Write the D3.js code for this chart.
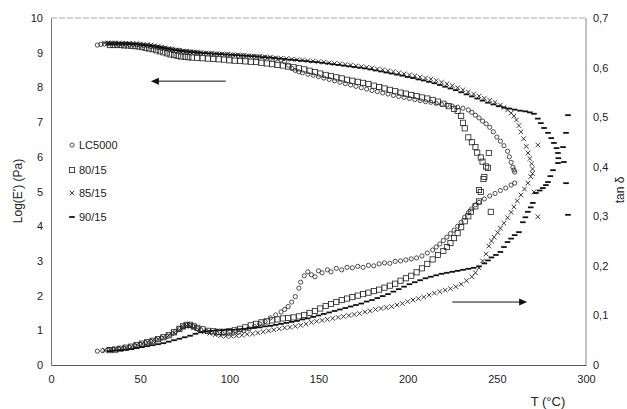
<!DOCTYPE html>
<html>
<head>
<meta charset="utf-8">
<script src="https://cdn.jsdelivr.net/npm/d3@7"></script>
<style>
  body { margin: 0; background: #fff; }
  svg { display: block; font-family: "Liberation Sans", Arial, sans-serif; }
</style>
</head>
<body>
<div id="chart"></div>
<script>
// ---- data: [T (°C), value] ----
var xTicks = [0, 50, 100, 150, 200, 250, 300];
var leftTicks = [0, 1, 2, 3, 4, 5, 6, 7, 8, 9, 10];
var rightTicks = [0, 0.1, 0.2, 0.3, 0.4, 0.5, 0.6, 0.7];
var seriesNames = ['LC5000', '80/15', '85/15', '90/15'];
var seriesMarkers = ['circle', 'square', 'cross', 'dash'];

// Log(E') on the left axis
var modLC5000 = [[26,9.22],[28,9.24],[30,9.25],[32,9.26],[34,9.26],[36,9.26],[38,9.25],[40,9.25],[42,9.25],[44,9.24],[46,9.24],[48,9.23],[50,9.22],[52,9.21],[54,9.20],[56,9.18],[58,9.17],[60,9.15],[62,9.13],[64,9.12],[66,9.10],[68,9.09],[70,9.07],[72,9.06],[74,9.04],[76,9.03],[78,9.02],[80,9.01],[82,9.00],[84,8.99],[87,8.98],[90,8.97],[93,8.96],[96,8.95],[99,8.94],[102,8.93],[105,8.92],[108,8.91],[111,8.90],[114,8.89],[117,8.88],[120,8.86],[123,8.84],[126,8.82],[129,8.79],[131,8.74],[133,8.64],[135,8.55],[137,8.49],[139,8.45],[141,8.42],[144,8.38],[147,8.35],[150,8.31],[153,8.27],[156,8.23],[159,8.19],[162,8.15],[165,8.11],[168,8.07],[171,8.03],[174,7.99],[177,7.95],[180,7.91],[183,7.88],[186,7.84],[189,7.81],[192,7.77],[195,7.74],[198,7.71],[201,7.68],[204,7.65],[207,7.62],[210,7.59],[213,7.57],[216,7.54],[219,7.51],[222,7.49],[225,7.46],[228,7.43],[231,7.40],[234,7.35],[236,7.28],[238,7.20],[240,7.12],[242,7.03],[244,6.95],[246,6.85],[248,6.72],[250,6.57],[252,6.45],[254,6.32],[256,6.16],[257,6.00],[258,5.84],[259,5.70],[260,5.56],[259.6,5.62]];
var mod8015 = [[33,9.22],[35,9.22],[37,9.22],[39,9.22],[41,9.21],[43,9.21],[45,9.20],[47,9.19],[49,9.18],[51,9.16],[53,9.14],[55,9.12],[57,9.10],[59,9.07],[61,9.04],[63,9.01],[65,8.98],[67,8.95],[69,8.93],[71,8.91],[73,8.89],[75,8.88],[77,8.87],[79,8.86],[82,8.85],[85,8.84],[88,8.83],[91,8.82],[94,8.81],[97,8.80],[100,8.78],[103,8.77],[106,8.76],[109,8.75],[112,8.74],[115,8.73],[118,8.71],[121,8.69],[124,8.67],[127,8.65],[130,8.63],[133,8.60],[136,8.58],[139,8.55],[142,8.52],[145,8.48],[148,8.44],[151,8.40],[154,8.36],[157,8.33],[160,8.29],[163,8.26],[166,8.22],[169,8.19],[172,8.16],[175,8.13],[178,8.10],[181,8.05],[184,8.01],[187,7.97],[190,7.93],[193,7.89],[196,7.85],[199,7.82],[202,7.78],[205,7.75],[208,7.71],[211,7.68],[214,7.64],[217,7.59],[220,7.53],[223,7.46],[226,7.38],[228,7.32],[230,7.18],[231,6.98],[232,6.82],[234,6.56],[236,6.42],[238,6.28],[239,6.12],[241,5.98],[242,5.86],[244,5.72],[245,5.68],[245.5,6.11],[243,5.42],[242.5,5.36]];
var mod8515 = [[30,9.28],[32,9.28],[34,9.28],[36,9.28],[38,9.28],[40,9.27],[42,9.27],[44,9.27],[46,9.26],[48,9.26],[50,9.25],[52,9.24],[54,9.23],[56,9.22],[58,9.20],[60,9.18],[62,9.16],[64,9.14],[66,9.12],[68,9.10],[70,9.08],[72,9.07],[74,9.05],[76,9.04],[78,9.03],[80,9.02],[82,9.01],[84,9.00],[87,8.99],[90,8.98],[93,8.97],[96,8.96],[99,8.95],[102,8.94],[105,8.93],[108,8.92],[111,8.91],[114,8.90],[117,8.89],[120,8.88],[123,8.87],[126,8.85],[129,8.84],[132,8.83],[135,8.81],[138,8.80],[141,8.79],[144,8.77],[147,8.76],[150,8.74],[153,8.73],[156,8.71],[159,8.69],[162,8.68],[165,8.66],[168,8.64],[171,8.62],[174,8.60],[177,8.58],[180,8.56],[183,8.53],[186,8.51],[189,8.48],[192,8.45],[195,8.42],[198,8.39],[201,8.36],[204,8.33],[207,8.30],[210,8.27],[213,8.24],[216,8.20],[219,8.15],[222,8.10],[225,8.05],[228,7.99],[231,7.93],[234,7.87],[237,7.81],[240,7.75],[243,7.69],[246,7.63],[249,7.57],[252,7.49],[254,7.42],[256,7.35],[258,7.26],[259.6,7.18],[261,7.06],[262.4,6.90],[263.5,6.72],[265,6.52],[266.5,6.30],[267.5,6.11],[268.5,5.95],[269.5,5.80],[270,5.65],[270,5.52],[273,6.34]];
var mod9015 = [[33,9.25],[35,9.26],[37,9.26],[39,9.26],[41,9.26],[43,9.26],[45,9.25],[47,9.25],[49,9.24],[51,9.23],[53,9.22],[55,9.21],[57,9.19],[59,9.18],[61,9.16],[63,9.14],[65,9.12],[67,9.10],[69,9.08],[71,9.07],[73,9.05],[75,9.04],[77,9.03],[79,9.02],[81,9.01],[83,9.00],[86,8.99],[89,8.98],[92,8.97],[95,8.96],[98,8.95],[101,8.94],[104,8.93],[107,8.92],[110,8.91],[113,8.90],[116,8.89],[119,8.87],[122,8.86],[125,8.85],[128,8.83],[131,8.82],[134,8.80],[137,8.79],[140,8.77],[143,8.76],[146,8.74],[149,8.73],[152,8.71],[155,8.69],[158,8.67],[161,8.65],[164,8.63],[167,8.61],[170,8.59],[173,8.57],[176,8.55],[179,8.52],[182,8.49],[185,8.46],[188,8.43],[191,8.40],[194,8.37],[197,8.34],[200,8.30],[203,8.27],[206,8.23],[209,8.20],[212,8.16],[215,8.12],[218,8.07],[221,8.02],[224,7.97],[227,7.92],[230,7.86],[233,7.80],[236,7.74],[239,7.68],[242,7.62],[245,7.56],[248,7.51],[251,7.46],[254,7.42],[257,7.39],[260,7.36],[263,7.33],[266,7.31],[268.5,7.28],[270.8,7.24],[273,7.10],[274.7,6.97],[276.5,6.83],[278.7,6.69],[280.5,6.54],[282,6.40],[283.5,6.25],[284.3,6.11],[284.5,5.96],[284.3,5.82],[289.9,7.20],[288.8,6.69],[287.1,6.28],[287.6,5.85],[288.8,5.24]];

// tan delta on the right axis
var tanLC5000 = [[26,0.028],[29,0.029],[32,0.031],[35,0.032],[38,0.033],[41,0.034],[44,0.036],[47,0.039],[50,0.042],[53,0.045],[56,0.048],[59,0.051],[62,0.054],[65,0.058],[68,0.063],[70,0.068],[72,0.073],[74,0.077],[76,0.080],[78,0.080],[80,0.077],[82,0.074],[84,0.071],[87,0.068],[90,0.066],[93,0.064],[96,0.063],[99,0.063],[102,0.064],[105,0.066],[108,0.069],[111,0.073],[114,0.078],[117,0.083],[120,0.088],[123,0.095],[126,0.101],[129,0.107],[131,0.112],[133,0.118],[135,0.127],[137,0.138],[139,0.155],[140,0.167],[142,0.180],[144,0.188],[146,0.182],[148,0.178],[150,0.190],[152,0.186],[155,0.192],[157,0.188],[160,0.195],[163,0.192],[166,0.197],[169,0.196],[172,0.199],[175,0.197],[178,0.201],[181,0.200],[184,0.204],[187,0.206],[190,0.205],[193,0.209],[196,0.210],[199,0.212],[202,0.214],[205,0.216],[208,0.220],[211,0.226],[214,0.232],[216,0.238],[218,0.244],[220,0.251],[222,0.258],[224,0.265],[226,0.272],[228,0.280],[230,0.288],[232,0.298],[234,0.307],[236,0.315],[238,0.323],[240,0.328],[243,0.335],[246,0.341],[249,0.346],[252,0.352],[255,0.357],[258,0.363],[260,0.367]];
var tan8015 = [[33,0.030],[36,0.031],[39,0.033],[42,0.035],[45,0.037],[48,0.040],[51,0.043],[54,0.046],[57,0.049],[60,0.052],[63,0.056],[66,0.060],[69,0.066],[72,0.073],[74,0.078],[76,0.081],[78,0.081],[80,0.078],[82,0.075],[85,0.072],[88,0.069],[91,0.068],[94,0.067],[97,0.067],[100,0.068],[103,0.070],[106,0.073],[109,0.076],[112,0.080],[115,0.083],[118,0.086],[121,0.088],[124,0.090],[127,0.092],[130,0.094],[133,0.095],[136,0.096],[139,0.098],[142,0.101],[145,0.105],[148,0.109],[151,0.114],[154,0.119],[157,0.123],[160,0.127],[163,0.131],[166,0.134],[169,0.137],[172,0.140],[175,0.143],[178,0.146],[181,0.149],[184,0.152],[187,0.156],[190,0.160],[193,0.164],[196,0.170],[199,0.175],[202,0.180],[205,0.187],[208,0.195],[211,0.204],[214,0.213],[217,0.222],[220,0.230],[222,0.238],[224,0.246],[226,0.256],[228,0.266],[230,0.278],[232,0.290],[234,0.300],[235.5,0.309],[238,0.320],[240,0.330],[241,0.349],[240,0.353],[246.6,0.309]];
var tan8515 = [[30,0.030],[33,0.031],[36,0.032],[39,0.033],[42,0.035],[45,0.037],[48,0.040],[51,0.043],[54,0.046],[57,0.049],[60,0.052],[63,0.056],[66,0.060],[69,0.065],[72,0.071],[74,0.076],[76,0.079],[78,0.078],[80,0.075],[83,0.071],[86,0.067],[89,0.064],[92,0.061],[95,0.059],[98,0.058],[101,0.058],[104,0.059],[107,0.060],[110,0.062],[113,0.063],[116,0.065],[119,0.067],[122,0.069],[125,0.071],[128,0.073],[131,0.075],[134,0.076],[137,0.078],[140,0.080],[143,0.083],[146,0.086],[149,0.088],[152,0.090],[155,0.092],[158,0.094],[161,0.096],[164,0.098],[167,0.100],[170,0.102],[173,0.104],[176,0.107],[179,0.109],[182,0.112],[185,0.114],[188,0.116],[191,0.118],[194,0.121],[197,0.124],[200,0.128],[203,0.131],[206,0.134],[209,0.137],[212,0.141],[215,0.145],[218,0.148],[221,0.151],[224,0.154],[227,0.158],[230,0.163],[233,0.170],[236,0.178],[238,0.186],[240,0.196],[242,0.210],[244,0.224],[245.5,0.240],[247,0.250],[248.5,0.258],[250.5,0.267],[252,0.276],[254,0.286],[256,0.297],[258,0.308],[259.6,0.319],[261.5,0.331],[263.5,0.343],[265.5,0.355],[267.4,0.367],[269,0.380],[270.8,0.349],[273,0.299]];
var tan9015 = [[33,0.028],[36,0.029],[39,0.030],[42,0.031],[45,0.032],[48,0.034],[51,0.036],[54,0.038],[57,0.040],[60,0.042],[63,0.044],[66,0.047],[69,0.050],[72,0.053],[75,0.056],[78,0.059],[81,0.063],[84,0.066],[87,0.068],[90,0.069],[93,0.070],[96,0.070],[99,0.071],[102,0.071],[105,0.072],[108,0.073],[111,0.074],[114,0.075],[117,0.076],[120,0.078],[123,0.079],[126,0.081],[129,0.083],[132,0.085],[135,0.087],[138,0.089],[141,0.092],[144,0.094],[147,0.097],[150,0.100],[153,0.103],[156,0.106],[159,0.109],[162,0.112],[165,0.115],[168,0.118],[171,0.121],[174,0.124],[177,0.128],[180,0.131],[183,0.135],[186,0.139],[189,0.143],[192,0.148],[195,0.153],[198,0.158],[201,0.163],[204,0.167],[207,0.171],[210,0.175],[213,0.178],[216,0.181],[219,0.184],[222,0.186],[225,0.188],[228,0.190],[231,0.192],[234,0.194],[237,0.196],[240,0.199],[243,0.205],[245,0.211],[247,0.217],[249.5,0.222],[252,0.228],[254,0.238],[256,0.248],[258,0.255],[260,0.262],[262.4,0.268],[264.6,0.288],[266,0.298],[267.4,0.309],[269,0.318],[270.2,0.327],[271.9,0.347],[274,0.352],[275.8,0.357],[277.5,0.363],[278.7,0.369],[280,0.381],[281.5,0.393],[289.9,0.303]];

var modSeries = [modLC5000, mod8015, mod8515, mod9015];
var tanSeries = [tanLC5000, tan8015, tan8515, tan9015];

// arrows: [T start, T end, value] (E' arrow on left axis, tan arrow on right axis)
var modArrow = [98, 56, 8.18];
var tanArrow = [225, 267, 0.127];

var Chart = {};

Chart.init = function () {
    var width = 627, height = 409;
    this.svg = d3.select('#chart').append('svg')
        .attr('width', width)
        .attr('height', height);

    this.x = d3.scaleLinear().domain([0, 300]).range([51, 586]);
    this.yL = d3.scaleLinear().domain([0, 10]).range([365, 18]);
    this.yR = d3.scaleLinear().domain([0, 0.7]).range([365, 18]);

    this.drawAxes();
    this.drawSeries();
    this.drawArrows();
    this.drawLegend();
};

Chart.drawAxes = function () {
    var svg = this.svg, x = this.x, yL = this.yL, yR = this.yR;

    // plot frame: top and right borders are faint in the scan
    svg.append('line').attr('x1', x(0)).attr('x2', x(300)).attr('y1', yL(10)).attr('y2', yL(10))
        .attr('stroke', '#aaa').attr('stroke-width', 1).attr('stroke-dasharray', '6,2');
    svg.append('line').attr('x1', x(300)).attr('x2', x(300)).attr('y1', yL(10)).attr('y2', yL(0))
        .attr('stroke', '#888').attr('stroke-width', 1);

    var xAxis = d3.axisBottom(x).tickValues(xTicks).tickSize(0).tickPadding(10);
    var gx = svg.append('g').attr('transform', 'translate(0,' + yL(0) + ')').call(xAxis);

    var leftAxis = d3.axisLeft(yL).tickValues(leftTicks).tickSize(0).tickPadding(8);
    var gl = svg.append('g').attr('transform', 'translate(' + x(0) + ',0)').call(leftAxis);

    var rightAxis = d3.axisRight(yR).tickValues(rightTicks).tickSize(0).tickPadding(7)
        .tickFormat(function (d) { return d === 0 ? '0' : d3.format('.1f')(d).replace('.', ','); });
    var gr = svg.append('g').attr('transform', 'translate(' + x(300) + ',0)').call(rightAxis);

    [gx, gl, gr].forEach(function (g) {
        g.selectAll('text').attr('font-size', 11).attr('fill', '#222')
            .attr('font-family', '"Liberation Sans", Arial, sans-serif');
    });
    gx.select('.domain').attr('stroke', '#555');
    gl.select('.domain').attr('stroke', '#777');
    gr.select('.domain').remove();

    svg.append('text')
        .attr('transform', 'translate(22,191) rotate(-90)')
        .attr('text-anchor', 'middle')
        .attr('font-size', 12)
        .attr('fill', '#222')
        .text("Log(E')  (Pa)");

    svg.append('text')
        .attr('transform', 'translate(624,190) rotate(-90)')
        .attr('text-anchor', 'middle')
        .attr('font-size', 12)
        .attr('fill', '#222')
        .text('tan \u03b4');

    svg.append('text')
        .attr('x', 548).attr('y', 406)
        .attr('text-anchor', 'middle')
        .attr('font-size', 13)
        .attr('fill', '#222')
        .text('T (\u00b0C)');
};

Chart.marker = function (sel, type) {
    if (type === 'circle') {
        sel.append('circle').attr('r', 2.1)
            .attr('fill', 'none').attr('stroke', '#222').attr('stroke-width', 0.8);
    } else if (type === 'square') {
        sel.append('rect').attr('x', -2.6).attr('y', -2.6).attr('width', 5.2).attr('height', 5.2)
            .attr('fill', 'none').attr('stroke', '#222').attr('stroke-width', 0.8);
    } else if (type === 'cross') {
        sel.append('path').attr('d', 'M-2.3,-2.3L2.3,2.3M-2.3,2.3L2.3,-2.3')
            .attr('stroke', '#222').attr('stroke-width', 0.9);
    } else {
        sel.append('rect').attr('x', -2.8).attr('y', -0.9).attr('width', 5.6).attr('height', 1.8)
            .attr('fill', '#111');
    }
};

Chart.drawSeries = function () {
    var self = this;
    var g = this.svg.append('g');

    seriesNames.forEach(function (name, i) {
        var type = seriesMarkers[i];
        var pts = modSeries[i].map(function (d) { return [self.x(d[0]), self.yL(d[1])]; })
            .concat(tanSeries[i].map(function (d) { return [self.x(d[0]), self.yR(d[1])]; }));
        var gs = g.append('g').attr('class', 'series-' + i);
        gs.selectAll('g').data(pts).enter().append('g')
            .attr('transform', function (d) { return 'translate(' + d[0] + ',' + d[1] + ')'; })
            .each(function () { self.marker(d3.select(this), type); });
    });
};

Chart.drawArrows = function () {
    var svg = this.svg, x = this.x;
    var arrows = [
        [x(modArrow[0]), x(modArrow[1]), this.yL(modArrow[2])],
        [x(tanArrow[0]), x(tanArrow[1]), this.yR(tanArrow[2])]
    ];
    arrows.forEach(function (a) {
        var dir = a[1] > a[0] ? 1 : -1;
        svg.append('line').attr('x1', a[0]).attr('x2', a[1] - dir * 6).attr('y1', a[2]).attr('y2', a[2])
            .attr('stroke', '#111').attr('stroke-width', 1);
        svg.append('path')
            .attr('d', 'M' + a[1] + ',' + a[2] + 'L' + (a[1] - dir * 8) + ',' + (a[2] - 3.5) +
                'L' + (a[1] - dir * 8) + ',' + (a[2] + 3.5) + 'Z')
            .attr('fill', '#111');
    });
};

Chart.drawLegend = function () {
    var self = this;
    var rows = [145, 170, 193, 217];
    seriesNames.forEach(function (name, i) {
        var g = self.svg.append('g').attr('transform', 'translate(72,' + rows[i] + ')');
        self.marker(g, seriesMarkers[i]);
        g.append('text').attr('x', 7).attr('y', 4)
            .attr('font-size', 11).attr('fill', '#222')
            .text(name);
    });
};

Chart.init();
</script>
</body>
</html>
